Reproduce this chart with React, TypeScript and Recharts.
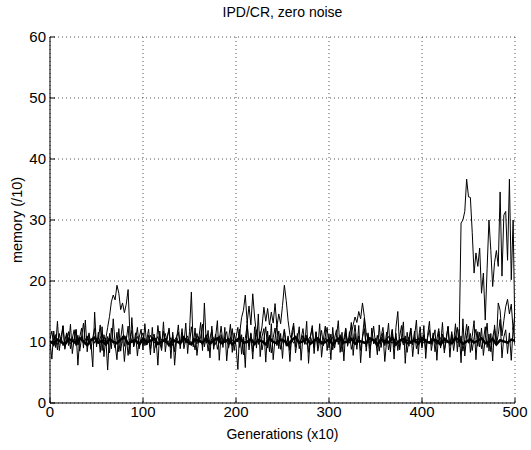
import React from 'react';
import { LineChart, Line, XAxis, YAxis, CartesianGrid, Label } from 'recharts';

const GEN_STEP = 2;
const BAND_STEP = 4;
const xTicks = [0, 100, 200, 300, 400, 500];
const yTicks = [0, 10, 20, 30, 40, 50, 60];

// run with the excursions (sampled every 2 generations, 0..500)
const runA = [
  10.2, 9.8, 10.5, 11.2, 9.6, 10.1, 10.8, 9.4, 10.3, 11.5, 10.0, 9.7, 10.6, 10.2, 12.1, 9.5, 10.4, 10.9, 9.9, 10.3, 11.0, 9.6, 10.2, 10.7, 9.8,
  10.4, 9.9, 10.6, 11.3, 10.1, 10.5, 12.4, 14.2, 16.6, 17.7, 16.9, 19.3, 18.0, 15.3, 16.4, 14.8, 16.2, 18.6, 11.0, 10.2, 9.7, 10.4, 10.9, 9.8, 10.3,
  10.1, 10.6, 9.5, 10.2, 11.1, 10.4, 9.8, 10.3, 10.9, 9.6, 10.5, 10.0, 11.4, 9.9, 10.2, 10.7, 9.4, 10.3, 10.8, 10.1, 9.7, 10.4, 11.0, 9.9, 10.5,
  10.2, 9.8, 10.6, 10.3, 9.7, 10.9, 10.1, 9.5, 10.4, 11.2, 10.0, 9.8, 10.5, 10.7, 9.6, 10.3, 11.0, 10.2, 9.9, 10.6, 10.1, 9.5, 10.8, 10.3, 9.9,
  10.4, 10.0, 11.5, 14.0, 15.2, 17.7, 13.2, 15.9, 12.8, 17.9, 14.1, 11.3, 10.2, 10.8, 12.6, 15.7, 13.4, 15.5, 12.8, 14.9, 13.1, 16.3, 12.5, 14.6, 13.0,
  16.0, 19.3, 16.8, 13.5, 11.2, 10.3, 9.8, 10.6, 10.1, 9.7, 10.4, 11.0, 10.2, 9.6, 10.5, 10.9, 9.9, 10.3, 10.7, 9.8, 10.4, 10.1, 9.6, 10.6, 10.2,
  9.9, 10.5, 10.8, 9.7, 10.3, 10.0, 10.6, 9.5, 10.4, 11.1, 10.2, 9.8, 11.3, 12.8, 14.1, 13.2, 15.0, 13.8, 16.4, 14.2, 11.5, 10.3, 9.9, 10.6, 10.1,
  10.4, 9.7, 10.2, 10.8, 10.0, 9.6, 10.5, 10.9, 10.1, 9.8, 10.3, 10.7, 9.9, 10.2, 10.6, 9.5, 10.4, 10.1, 10.8, 9.7, 10.3, 10.0, 10.5, 9.9, 10.6,
  10.2, 9.8, 10.5, 10.1, 9.7, 10.4, 10.9, 10.0, 9.6, 10.3, 10.7, 10.1, 9.9, 10.5, 10.2, 9.8, 10.6, 10.0, 10.4, 9.9, 10.5, 29.5, 30.0, 31.4, 36.7,
  33.8, 33.7, 28.0, 21.3, 24.6, 22.4, 25.4, 18.0, 21.3, 13.6, 22.0, 30.0, 25.0, 19.1, 23.0, 25.0, 22.4, 34.6, 20.8, 30.8, 31.4, 23.4, 36.7, 20.2, 30.0,
  10.4,
];

// noisy run with large spikes
const runB = [
  10.0, 7.2, 11.8, 9.1, 13.4, 8.6, 10.9, 12.7, 8.8, 11.3, 9.4, 12.9, 8.1, 10.6, 11.9, 6.2, 10.8, 12.3, 9.0, 13.6, 8.4, 11.2, 9.8, 5.9, 14.9,
  9.2, 11.6, 8.3, 12.5, 7.6, 10.7, 5.4, 11.4, 8.9, 13.8, 9.6, 7.1, 12.2, 8.5, 11.0, 6.8, 10.3, 12.6, 8.0, 14.0, 9.3, 11.5, 7.7, 10.8, 12.1,
  8.7, 13.0, 9.5, 11.1, 7.9, 12.4, 8.2, 10.6, 6.2, 11.8, 9.0, 13.3, 8.4, 10.9, 12.0, 7.3, 11.6, 6.2, 10.2, 12.8, 8.9, 11.4, 9.7, 13.1, 8.1,
  11.7, 18.2, 9.2, 12.3, 7.8, 10.5, 13.2, 8.6, 16.4, 9.8, 11.9, 7.4, 12.6, 8.8, 10.7, 13.5, 7.0, 11.2, 9.1, 12.4, 6.9, 10.4, 12.9, 8.3, 11.5,
  9.4, 5.5, 12.1, 8.0, 10.8, 5.8, 13.4, 8.7, 11.3, 7.2, 12.5, 9.0, 14.6, 7.6, 10.9, 12.2, 6.7, 11.8, 8.4, 13.0, 7.1, 10.6, 12.7, 8.9, 11.4,
  7.3, 12.0, 9.3, 10.7, 6.8, 11.6, 13.1, 8.2, 10.4, 12.5, 7.0, 11.1, 9.6, 13.4, 6.5, 10.9, 12.3, 8.1, 11.7, 9.2, 13.0, 7.5, 10.5, 12.6, 8.6,
  11.3, 7.1, 12.4, 9.0, 10.8, 13.5, 8.3, 11.6, 6.9, 12.1, 9.5, 10.7, 13.2, 7.8, 11.4, 8.8, 12.7, 6.6, 10.9, 13.9, 8.5, 11.2, 7.4, 12.3, 9.7,
  10.6, 7.9, 12.8, 9.1, 11.5, 6.8, 10.3, 13.1, 8.4, 11.9, 7.2, 12.4, 15.0, 8.7, 10.8, 13.3, 6.5, 11.6, 9.3, 12.2, 7.6, 10.9, 13.6, 8.0, 11.4,
  9.0, 12.7, 7.3, 11.1, 13.4, 8.6, 10.5, 12.0, 7.0, 11.8, 9.4, 13.2, 8.2, 10.7, 12.5, 7.5, 11.3, 9.8, 13.0, 8.4, 12.1, 6.6, 13.8, 7.7, 11.0,
  12.6, 8.3, 10.9, 13.5, 7.1, 11.7, 9.2, 12.3, 7.8, 10.6, 13.1, 8.5, 11.4, 6.9, 12.8, 9.6, 11.2, 13.7, 7.4, 10.8, 12.0, 8.1, 11.5, 7.0, 12.4,
  9.5,
];

// moderately noisy run
const runC = [
  10.5, 11.8, 9.3, 10.9, 8.7, 11.4, 9.9, 12.6, 9.1, 10.3, 11.7, 8.9, 10.6, 12.0, 9.4, 11.1, 8.5, 10.8, 13.1, 9.6, 10.2, 11.5, 8.8, 10.7, 12.2,
  9.7, 10.4, 12.8, 8.6, 11.2, 9.5, 10.9, 8.2, 12.3, 10.1, 9.0, 11.6, 8.4, 10.5, 12.9, 9.3, 11.0, 7.8, 10.6, 11.9, 9.2, 10.3, 12.4, 8.9, 10.8,
  11.5, 9.4, 10.2, 12.1, 8.8, 10.6, 11.3, 9.1, 12.7, 10.0, 8.6, 11.8, 9.8, 10.5, 12.3, 9.0, 11.1, 8.4, 10.9, 11.6, 9.5, 12.2, 8.9, 10.4, 11.0,
  9.6, 12.5, 10.3, 8.7, 11.4, 9.9, 10.8, 12.9, 9.2, 11.0, 8.5, 10.6, 12.0, 9.4, 11.3, 8.8, 10.2, 12.6, 9.7, 10.9, 11.7, 9.0, 10.5, 12.2, 8.6,
  10.8, 12.4, 9.1, 11.2, 7.9, 10.6, 12.8, 9.3, 11.5, 8.4, 10.1, 12.0, 9.6, 11.7, 8.7, 10.4, 12.5, 9.0, 11.1, 8.2, 10.7, 12.3, 9.4, 11.8, 8.8,
  10.3, 12.1, 9.5, 11.0, 8.6, 10.7, 12.6, 9.2, 11.4, 8.9, 10.5, 12.2, 9.7, 11.1, 8.3, 10.8, 12.7, 9.1, 11.6, 8.5, 10.2, 11.9, 9.4, 10.9, 12.4,
  9.0, 11.3, 8.7, 10.6, 12.0, 9.6, 11.2, 8.4, 10.5, 12.3, 9.3, 11.7, 8.8, 10.1, 12.8, 9.5, 11.0, 8.6, 10.7, 12.2, 9.2, 11.5, 8.9, 10.4, 12.6,
  9.7, 11.1, 8.5, 10.8, 12.4, 9.4, 11.6, 8.7, 10.3, 12.1, 9.1, 11.4, 8.6, 10.9, 12.7, 9.8, 11.0, 8.3, 10.6, 12.3, 9.5, 11.8, 8.9, 10.2, 12.5,
  9.3, 11.2, 8.8, 10.7, 12.0, 9.6, 11.5, 8.4, 10.5, 12.2, 9.0, 11.3, 8.7, 10.1, 12.6, 9.4, 11.7, 8.6, 10.8, 12.4, 9.2, 11.0, 8.5, 10.4, 12.9,
  9.8, 11.4, 8.6, 10.7, 12.1, 9.3, 11.6, 8.9, 10.2, 12.5, 9.1, 11.3, 8.4, 10.8, 12.2, 9.7, 16.4, 15.2, 11.0, 13.5, 15.8, 17.0, 14.6, 16.2, 12.0,
  14.8,
];

// the tight band of runs hugging 10 (sampled every 4 generations)
const runBand = [
  10.1, 9.7, 10.4, 10.0, 9.6, 10.5, 10.2, 9.8, 10.6, 10.1, 9.5, 10.3, 10.7, 9.9, 10.2, 9.6, 10.5, 10.0, 9.8, 10.4, 10.8, 9.7, 10.1, 10.3, 9.6,
  10.5, 9.9, 10.2, 10.6, 9.7, 10.0, 10.4, 9.5, 10.3, 10.1, 9.8, 10.7, 10.0, 9.6, 10.4, 10.2, 9.9, 10.5, 9.7, 10.3, 10.6, 9.8, 10.1, 10.4, 9.6,
  10.2, 10.7, 9.9, 10.0, 10.5, 9.7, 10.3, 10.1, 9.6, 10.6, 10.0, 9.8, 10.4, 10.2, 9.5, 10.3, 10.8, 9.9, 10.1, 10.5, 9.7, 10.2, 10.6, 9.8, 10.0,
  10.4, 9.6, 10.3, 10.7, 9.9, 10.1, 10.5, 9.7, 10.2, 10.0, 9.8, 10.6, 10.3, 9.5, 10.4, 10.1, 9.9, 10.7, 9.6, 10.2, 10.5, 9.8, 10.0, 10.3, 9.7,
  10.6, 10.1, 9.9, 10.4, 10.2, 9.6, 10.5, 10.0, 9.8, 10.7, 10.3, 9.7, 10.1, 10.4, 9.9, 10.2, 10.6, 9.8, 10.0, 10.5, 9.6, 10.3, 10.1, 9.9, 10.4,
  10.2,
];

const toSeries = (vals: number[], step: number) => vals.map((v, i) => ({ gen: i * step, v }));

const FONT = '"Liberation Sans", Arial, Helvetica, sans-serif';
const tickStyle = { fill: '#000', fontSize: 15, fontFamily: FONT };

export default function App() {
  return (
    <div style={{ position: 'absolute', left: 0, top: 0, width: 531, height: 450, background: '#fff', fontFamily: FONT }}>
      <div style={{ position: 'absolute', left: 50, top: 4, width: 465, textAlign: 'center', fontSize: 14, lineHeight: '16px', color: '#000' }}>
        IPD/CR, zero noise
      </div>
      <LineChart width={531} height={450} margin={{ top: 37, right: 16, bottom: 0, left: 10 }}>
        <CartesianGrid xAxisId="bottom" yAxisId="left" stroke="#555" strokeDasharray="1 3" />
        <XAxis
          xAxisId="bottom"
          dataKey="gen"
          type="number"
          domain={[0, 500]}
          ticks={xTicks}
          height={47}
          tickSize={-5}
          tickMargin={8}
          stroke="#000"
          tick={tickStyle}
          allowDataOverflow
        >
          <Label value="Generations (x10)" position="insideBottom" offset={11} style={{ fill: '#000', fontSize: 14, fontFamily: FONT }} />
        </XAxis>
        <XAxis
          xAxisId="top"
          orientation="top"
          dataKey="gen"
          type="number"
          domain={[0, 500]}
          ticks={xTicks}
          height={0}
          tickSize={-5}
          stroke="#000"
          tickFormatter={() => ''}
          allowDataOverflow
        />
        <YAxis
          yAxisId="left"
          type="number"
          domain={[0, 60]}
          ticks={yTicks}
          width={40}
          tickSize={-5}
          tickMargin={9}
          stroke="#000"
          tick={tickStyle}
          allowDataOverflow
        >
          <Label value="memory (/10)" angle={-90} position="insideLeft" offset={7} style={{ fill: '#000', fontSize: 14.5, fontFamily: FONT, textAnchor: 'middle' }} />
        </YAxis>
        <YAxis
          yAxisId="right"
          orientation="right"
          type="number"
          domain={[0, 60]}
          ticks={yTicks}
          width={0}
          tickSize={-5}
          stroke="#000"
          tickFormatter={() => ''}
          allowDataOverflow
        />
        <Line xAxisId="bottom" yAxisId="left" data={toSeries(runB, GEN_STEP)} dataKey="v" stroke="#000" strokeWidth={1} dot={false} isAnimationActive={false} />
        <Line xAxisId="bottom" yAxisId="left" data={toSeries(runC, GEN_STEP)} dataKey="v" stroke="#000" strokeWidth={1} dot={false} isAnimationActive={false} />
        <Line xAxisId="bottom" yAxisId="left" data={toSeries(runA, GEN_STEP)} dataKey="v" stroke="#000" strokeWidth={1} dot={false} isAnimationActive={false} />
        <Line xAxisId="bottom" yAxisId="left" data={toSeries(runBand, BAND_STEP)} dataKey="v" stroke="#000" strokeWidth={2.5} dot={false} isAnimationActive={false} />
      </LineChart>
    </div>
  );
}
